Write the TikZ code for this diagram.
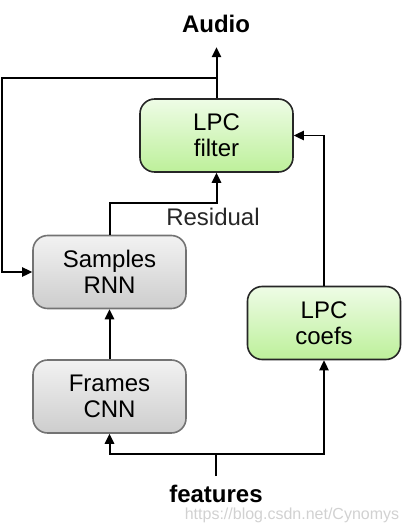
\documentclass[tikz,border=0pt]{standalone}
\usepackage{fontspec}
\setmainfont{Liberation Sans}
\usetikzlibrary{arrows.meta}

\definecolor{grtop}{HTML}{F2F2F2}
\definecolor{grbot}{HTML}{CDCDCD}
\definecolor{gntop}{HTML}{EEFCE6}
\definecolor{gnbot}{HTML}{BDF09A}

\begin{document}
\begin{tikzpicture}[x=0.75pt,y=-0.75pt]
        \useasboundingbox (0,0) rectangle (409,526);

        \begin{scope}[every node/.style={rounded corners=11pt,line width=1.2pt,minimum width=114.75pt,minimum height=54.75pt,align=center,font=\fontsize{18}{19.5}\selectfont,inner sep=1}]
                \node [draw=black!85, top color=gntop, bottom color=gnbot] (filter) at (216.5,135.5) {LPC\\filter};
                \node [draw=black!55, top color=grtop, bottom color=grbot] (samples) at (109.5,272) {Samples\\RNN};
                \node [draw=black!55, top color=grtop, bottom color=grbot] (frames) at (109.5,396.5) {Frames\\CNN};
                \node [draw=black!85, top color=gntop, bottom color=gnbot] (coefs) at (324,323) {LPC\\coefs};
        \end{scope}

        \node [font=\fontsize{18}{20}\selectfont\bfseries] (audio) at (216,24) {Audio};
        \node [font=\fontsize{18}{20}\selectfont\bfseries, inner sep=0] (features) at (216,494) {features};
        \node [font=\fontsize{12}{14}\selectfont, text=black!18, inner sep=0, anchor=north] (mark) at (292,508) {https://blog.csdn.net/Cynomys};
        \node [font=\fontsize{18}{20}\selectfont, text=black!85] (res) at (213,217) {Residual};

        \coordinate (split) at (216,78);
        \coordinate (fin) at (216,476);
        \coordinate (fsplit) at (216,454);

        \begin{scope}[every path/.style={line width=1.5pt, -{Triangle[length=7.5pt,width=7pt]}}]
                \draw (filter.north) -- ++(0,-51);
                \draw (samples.north) -- ++(0,-32) -| (filter.south);
                \draw (frames.north) -- (samples.south);
                \draw [line width=1.1pt] (split) -- ++(-214,0) |- (samples.west);
                \draw [line width=1.1pt] (coefs.north) |- (filter.east);
                \draw [-] (fin) -- (fsplit);
                \draw (fsplit) -| (frames.south);
                \draw [line width=1.1pt] (fsplit) -| (coefs.south);
        \end{scope}
\end{tikzpicture}
\end{document}
